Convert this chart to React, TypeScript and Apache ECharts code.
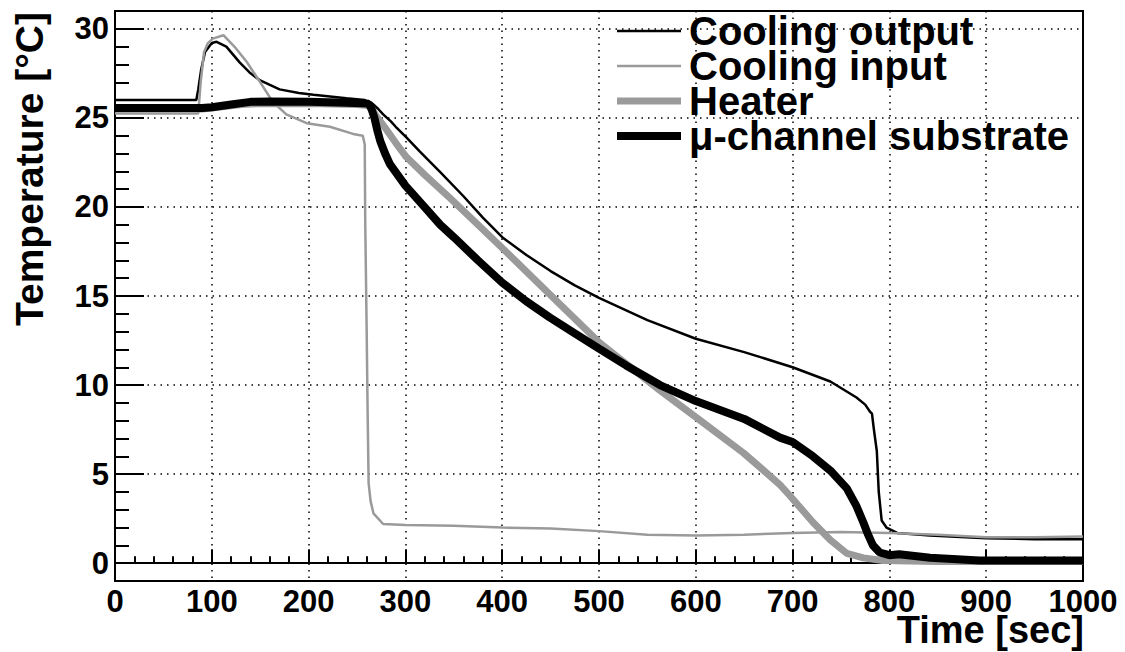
import { useEffect, useRef } from "react";
import * as echarts from "echarts";

// ---- data (time in sec, temperature in °C) ----
const coolingOutputTime = [0, 84, 86, 89, 93, 100, 105, 115, 129, 140, 150, 170, 190, 205, 239, 258, 266, 272, 277, 285, 290, 301, 315, 336, 360, 380, 400, 425, 450, 475, 500, 550, 600, 650, 700, 739, 766, 775, 780, 782, 784, 787, 789, 792, 797, 808, 842, 900, 950, 1000];
const coolingOutputTemp = [26.0, 26.0, 26.6, 27.7, 28.7, 29.2, 29.27, 29.0, 28.1, 27.5, 27.1, 26.6, 26.4, 26.3, 26.1, 26.0, 25.8, 25.5, 25.2, 24.8, 24.5, 23.9, 23.1, 21.95, 20.6, 19.4, 18.3, 17.3, 16.4, 15.6, 14.9, 13.65, 12.6, 11.85, 11.0, 10.2, 9.3, 8.9, 8.5, 8.4, 7.5, 6.3, 4.0, 2.4, 2.0, 1.7, 1.55, 1.4, 1.35, 1.35];

const coolingInputTime = [0, 86, 88.5, 92, 96, 101, 112, 125, 136, 150, 163, 177, 198, 222, 246, 256, 258, 258.5, 260, 261, 262, 264, 267, 277, 300, 350, 400, 450, 500, 550, 600, 650, 700, 750, 800, 850, 900, 950, 1000];
const coolingInputTemp = [25.25, 25.25, 27.0, 28.7, 29.2, 29.45, 29.64, 28.9, 28.15, 27.0, 25.9, 25.2, 24.7, 24.5, 24.1, 24.0, 23.5, 19.2, 13.0, 8.4, 4.5, 3.5, 2.8, 2.2, 2.15, 2.1, 2.0, 1.95, 1.8, 1.6, 1.55, 1.6, 1.7, 1.75, 1.7, 1.6, 1.45, 1.45, 1.5];

const heaterTime = [0, 90, 100, 130, 150, 200, 250, 262, 266, 270, 277, 290, 301, 320, 346, 375, 400, 449, 500, 528, 563, 600, 649, 666, 687, 697, 721, 739, 756, 773, 793, 850, 1000];
const heaterTemp = [25.5, 25.5, 25.55, 25.75, 25.8, 25.8, 25.75, 25.7, 25.45, 25.1, 24.6, 23.6, 22.8, 21.8, 20.5, 19.0, 17.7, 15.1, 12.4, 11.2, 9.7, 8.2, 6.2, 5.4, 4.4, 3.8, 2.3, 1.3, 0.55, 0.3, 0.15, 0.1, 0.1];

const substrateTime = [0, 90, 100, 120, 140, 160, 200, 240, 262, 265, 268, 271, 274, 279, 284, 292, 300, 318, 336, 350, 375, 400, 425, 449, 475, 500, 528, 563, 600, 650, 687, 700, 721, 739, 756, 766, 773, 778, 783, 790, 800, 810, 842, 893, 1000];
const substrateTemp = [25.55, 25.55, 25.6, 25.75, 25.9, 25.92, 25.9, 25.85, 25.8, 25.5, 25.0, 24.3, 23.7, 23.0, 22.4, 21.8, 21.2, 20.1, 19.0, 18.3, 17.0, 15.75, 14.7, 13.8, 12.9, 12.05, 11.1, 10.0, 9.1, 8.1, 7.05, 6.8, 6.0, 5.2, 4.2, 3.2, 2.3, 1.6, 1.0, 0.6, 0.45, 0.5, 0.3, 0.15, 0.15];

const seriesNames = ["Cooling output", "Cooling input", "Heater", "\u03bc-channel substrate"];
const yMajorTicks = [0, 5, 10, 15, 20, 25, 30];
const xTickLabels = [0, 100, 200, 300, 400, 500, 600, 700, 800, 900, 1000];
const xAxisTitle = "Time [sec]";
const yAxisTitle = "Temperature [\u00b0C]";

function zip(t: number[], v: number[]) {
  return t.map((x, i) => [x, v[i]]);
}

const FONT = "Liberation Sans";

export default function App() {
  const ref = useRef<HTMLDivElement>(null);
  useEffect(() => {
    const chart = echarts.init(ref.current!, null, { renderer: "svg" });
    const tickFont = { fontFamily: FONT, fontWeight: "bold" as const, fontSize: 31, color: "#000", lineHeight: 24 };
    const lineCommon = { type: "line" as const, symbol: "none", showSymbol: false };
    chart.setOption({
      animation: false,
      backgroundColor: "#fff",
      grid: {
        left: 115, right: 42, top: 11, bottom: 71,
        show: true, borderColor: "#000", borderWidth: 2, backgroundColor: "transparent",
      },
      legend: {
        left: 613, top: 11, orient: "vertical", padding: 0, itemGap: -5,
        itemWidth: 64, itemHeight: 12, selectedMode: false,
        data: seriesNames,
        itemStyle: { opacity: 0 },
        lineStyle: { width: "inherit" },
        textStyle: { fontFamily: FONT, fontWeight: "bold", fontSize: 40, color: "#000", lineHeight: 34, padding: [0, 0, 0, 3] },
      },
      xAxis: {
        type: "value", min: 0, max: 1000, interval: 100,
        axisLine: { show: true, lineStyle: { color: "#000", width: 2 } },
        axisTick: { show: true, inside: true, length: 14, lineStyle: { color: "#000", width: 2 } },
        minorTick: { show: true, splitNumber: 5, length: 7, lineStyle: { color: "#000", width: 2 } },
        axisLabel: { ...tickFont, margin: 8, formatter: (v: number) => (xTickLabels.includes(v) ? String(v) : "") },
        splitLine: { show: true, lineStyle: { color: "#000", width: 1.5, type: [1.5, 5] } },
      },
      yAxis: [
        {
          type: "value", min: -1, max: 31, interval: 1,
          axisLine: { show: true, lineStyle: { color: "#000", width: 2 } },
          axisTick: { show: true, inside: true, length: 14, lineStyle: { color: "#000", width: 2 } },
          axisLabel: { show: false },
          splitLine: { show: false },
        },
        {
          type: "value", min: -1, max: 31, position: "left",
          axisLine: { show: true, lineStyle: { color: "#000", width: 2 } },
          axisTick: { show: true, inside: true, length: 29, customValues: yMajorTicks, lineStyle: { color: "#000", width: 2 } },
          axisLabel: { ...tickFont, margin: 6, customValues: yMajorTicks },
          splitLine: { show: true, lineStyle: { color: "#000", width: 1.5, type: [1.5, 5] } },
        },
      ],
      series: [
        {
          ...lineCommon, name: seriesNames[0], data: zip(coolingOutputTime, coolingOutputTemp),
          color: "#000", lineStyle: { color: "#000", width: 2.5 },
        },
        {
          ...lineCommon, name: seriesNames[1], data: zip(coolingInputTime, coolingInputTemp),
          color: "#9a9a9a", lineStyle: { color: "#9a9a9a", width: 2.5 },
        },
        {
          ...lineCommon, name: seriesNames[2], data: zip(heaterTime, heaterTemp),
          color: "#9a9a9a", lineStyle: { color: "#9a9a9a", width: 7 },
        },
        {
          ...lineCommon, name: seriesNames[3], data: zip(substrateTime, substrateTemp),
          color: "#000", lineStyle: { color: "#000", width: 8 },
        },
      ],
      graphic: [
        {
          type: "text", x: 29, y: 12, rotation: Math.PI / 2,
          style: { text: yAxisTitle, fontFamily: FONT, fontWeight: "bold", fontSize: 39, lineHeight: 30, fill: "#000", align: "right", verticalAlign: "middle" },
        },
        {
          type: "text", x: 1084, y: 630,
          style: { text: xAxisTitle, fontFamily: FONT, fontWeight: "bold", fontSize: 38, lineHeight: 28, fill: "#000", align: "right", verticalAlign: "middle" },
        },
      ],
    });
    return () => chart.dispose();
  }, []);
  return <div ref={ref} style={{ position: "fixed", left: 0, top: 0, width: 1125, height: 652 }} />;
}
